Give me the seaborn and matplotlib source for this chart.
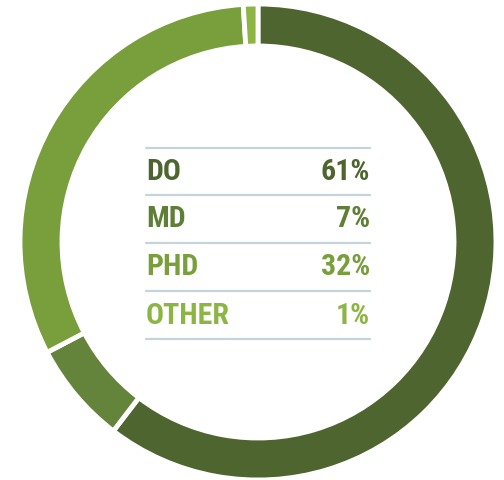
import matplotlib
matplotlib.use("Agg")
import matplotlib.pyplot as plt
import seaborn as sns
from matplotlib import font_manager

categories = ["DO", "MD", "PHD", "OTHER"]
values = [61, 7, 32, 1]
labels_pct = ["61%", "7%", "32%", "1%"]
colors = ["#4f6530", "#63843a", "#789f3b", "#8cb544"]
text_colors = ["#4f6530", "#5f7f36", "#789f3b", "#8cb544"]

sns.set_theme(style="white")
names = sorted({f.name for f in font_manager.fontManager.ttflist})
cands = ["Roboto Condensed", "Liberation Sans Narrow", "DejaVu Sans Condensed",
         "Open Sans Condensed", "Noto Sans Condensed"]
fam = next((c for c in cands if c in names), "DejaVu Sans")
plt.rcParams["font.family"] = [fam, "DejaVu Sans"]
stretch = "condensed"

fig = plt.figure(figsize=(5.04, 4.8), dpi=100)
ax = fig.add_axes([0, 0, 1, 1])

cx, cy, R = 258, 480 - 242, 238
ax.pie(values, colors=colors, startangle=90, counterclock=False,
       center=(cx, cy), radius=R, frame=True,
       wedgeprops=dict(width=42, edgecolor="white", linewidth=3.5))
ax.set_xlim(0, 504)
ax.set_ylim(0, 480)
ax.set_aspect("equal")
ax.axis("off")

row_y = [172, 219, 267, 316]
line_y = [148, 195, 243, 291, 339]
for ly in line_y:
    ax.plot([146, 370], [480 - ly, 480 - ly], color="#c5d3db", lw=1.6)
for cat, pct, ry, tc in zip(categories, labels_pct, row_y, text_colors):
    ax.text(146, 480 - ry, cat, color=tc, fontsize=21.5, fontweight="bold",
            fontstretch=stretch, ha="left", va="center")
    ax.text(370, 480 - ry, pct, color=tc, fontsize=21.5, fontweight="bold",
            fontstretch=stretch, ha="right", va="center")

fig.savefig("out.png", dpi=100)
